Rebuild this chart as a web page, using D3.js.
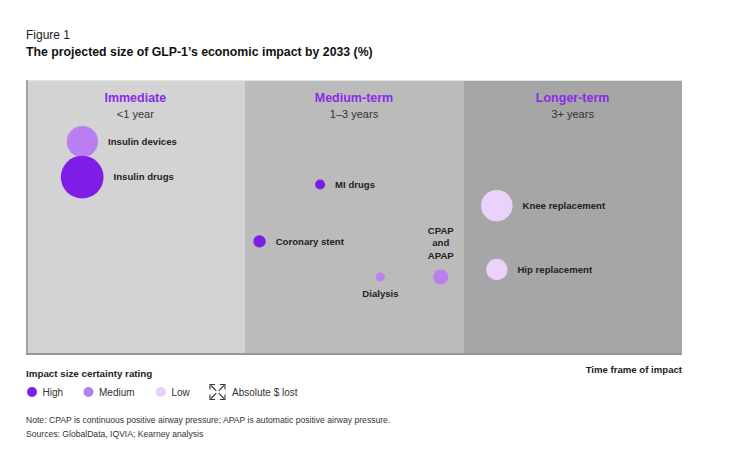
<!DOCTYPE html>
<html><head><meta charset="utf-8">
<script src="https://cdn.jsdelivr.net/npm/d3@7/dist/d3.min.js"></script>
<style>
html,body{margin:0;padding:0;background:#fff;}
svg{display:block;font-family:"Liberation Sans",Arial,sans-serif;}
</style></head>
<body>
<svg id="chart" width="734" height="451"></svg>
<script>
// ---- data ----
const periods = ["Immediate", "Medium-term", "Longer-term"];
const periodSub = ["<1 year", "1–3 years", "3+ years"];
const names = ["Insulin devices", "Insulin drugs", "MI drugs", "Coronary stent", "Dialysis", "CPAP and APAP", "Knee replacement", "Hip replacement"];
const timeframe = [0.258, 0.257, 1.345, 1.068, 1.621, 1.897, 2.153, 2.153];
const vertical = [77.6, 64.7, 62.0, 41.3, 28.4, 28.4, 54.3, 31.1];
const impact = [53.3, 100, 5.4, 8.3, 4.4, 12.2, 54, 24.8];
const certainty = ["Medium", "High", "High", "High", "Medium", "Medium", "Low", "Low"];
const legendLevels = ["High", "Medium", "Low"];

// ---- styles ----
const certColor = {High: "#7d1de5", Medium: "#b97ff1", Low: "#ead2fc"};
const panelFill = ["#d3d3d3", "#bbbbbb", "#a6a6a6"];
const labelPlacement = {"Dialysis": "below", "CPAP and APAP": "above"};

const svg = d3.select("#chart");
const x = d3.scaleLinear().domain([0, 3]).range([26, 682]);
const y = d3.scaleLinear().domain([0, 100]).range([355, 80]);
const r = d3.scaleSqrt().domain([0, 100]).range([0, 21.4]);

// title
svg.append("text").attr("x", 26).attr("y", 39).attr("font-size", 12).attr("fill", "#222").text("Figure 1");
svg.append("text").attr("x", 26).attr("y", 56).attr("font-size", 12.3).attr("font-weight", "bold").attr("fill", "#111")
  .text("The projected size of GLP-1’s economic impact by 2033 (%)");

// panels
const pg = svg.append("g");
periods.forEach((p, i) => {
  pg.append("rect").attr("x", x(i)).attr("y", y(100)).attr("width", x(i + 1) - x(i)).attr("height", y(0) - y(100)).attr("fill", panelFill[i]);
  const cx = (x(i) + x(i + 1)) / 2;
  pg.append("text").attr("x", cx).attr("y", 102).attr("text-anchor", "middle").attr("font-size", 12.5)
    .attr("font-weight", "bold").attr("fill", "#8a2be6").text(p);
  pg.append("text").attr("x", cx).attr("y", 118).attr("text-anchor", "middle").attr("font-size", 11)
    .attr("fill", "#333").text(periodSub[i]);
});
pg.append("line").attr("x1", x(0)).attr("x2", x(3)).attr("y1", y(100) + 0.5).attr("y2", y(100) + 0.5).attr("stroke", "#e4e4e4").attr("stroke-width", 1);
pg.append("line").attr("x1", x(0) + 1).attr("x2", x(0) + 1).attr("y1", y(100)).attr("y2", y(0)).attr("stroke", "#a2a2a2").attr("stroke-width", 2);
pg.append("line").attr("x1", x(0)).attr("x2", x(3)).attr("y1", y(0) - 1).attr("y2", y(0) - 1).attr("stroke", "#969696").attr("stroke-width", 2);

// bubbles
const data = names.map((n, i) => ({name: n, t: timeframe[i], v: vertical[i], s: impact[i], c: certainty[i]}));
const bg = svg.append("g");
bg.selectAll("circle").data(data).join("circle")
  .attr("cx", d => x(d.t)).attr("cy", d => y(d.v)).attr("r", d => r(d.s))
  .attr("fill", d => certColor[d.c]);

data.forEach(d => {
  const cx = x(d.t), cy = y(d.v), rad = r(d.s);
  const place = labelPlacement[d.name] || "right";
  const t = bg.append("text").attr("font-size", 9.6).attr("font-weight", "bold").attr("fill", "#222");
  if (place === "right") {
    t.attr("x", cx + rad + 10).attr("y", cy).attr("dy", "0.35em").text(d.name);
  } else if (place === "below") {
    t.attr("x", cx).attr("y", cy + rad + 12).attr("dy", "0.35em").attr("text-anchor", "middle").text(d.name);
  } else {
    const lines = ["CPAP", "and", "APAP"];
    t.attr("text-anchor", "middle");
    lines.forEach((l, k) => {
      t.append("tspan").attr("x", cx).attr("y", cy - rad - 14 - (lines.length - 1 - k) * 12.5).attr("dy", "0.35em").text(l);
    });
  }
});

// legend
const lg = svg.append("g");
lg.append("text").attr("x", 26).attr("y", 377).attr("font-size", 9.8).attr("font-weight", "bold").attr("fill", "#222").text("Impact size certainty rating");
const legX = [32, 88.5, 161];
legendLevels.forEach((l, i) => {
  lg.append("circle").attr("cx", legX[i]).attr("cy", 392).attr("r", 5).attr("fill", certColor[l]);
  lg.append("text").attr("x", legX[i] + 10.5).attr("y", 392).attr("dy", "0.35em").attr("font-size", 10).attr("fill", "#333").text(l);
});
// expand icon
const ic = lg.append("g").attr("transform", "translate(210,384.5)").attr("stroke", "#333").attr("stroke-width", 1.1).attr("fill", "none");
const s = 15;
ic.append("path").attr("d", `M0,5 V0 H5 M${s-5},0 H${s} V5 M${s},${s-5} V${s} H${s-5} M5,${s} H0 V${s-5}`);
ic.append("path").attr("d", `M1,1 L6.3,6.3 M${s-1},1 L${s-6.3},6.3 M${s-1},${s-1} L${s-6.3},${s-6.3} M1,${s-1} L6.3,${s-6.3}`);
lg.append("text").attr("x", 232).attr("y", 392).attr("dy", "0.35em").attr("font-size", 10).attr("fill", "#333").text("Absolute $ lost");

svg.append("text").attr("x", 682).attr("y", 373).attr("text-anchor", "end").attr("font-size", 9.6).attr("font-weight", "bold").attr("fill", "#222").text("Time frame of impact");

// notes
svg.append("text").attr("x", 26).attr("y", 423).attr("font-size", 8.6).attr("fill", "#333")
  .text("Note: CPAP is continuous positive airway pressure; APAP is automatic positive airway pressure.");
svg.append("text").attr("x", 26).attr("y", 437).attr("font-size", 8.6).attr("fill", "#333")
  .text("Sources: GlobalData, IQVIA; Kearney analysis");
</script>
</body></html>
